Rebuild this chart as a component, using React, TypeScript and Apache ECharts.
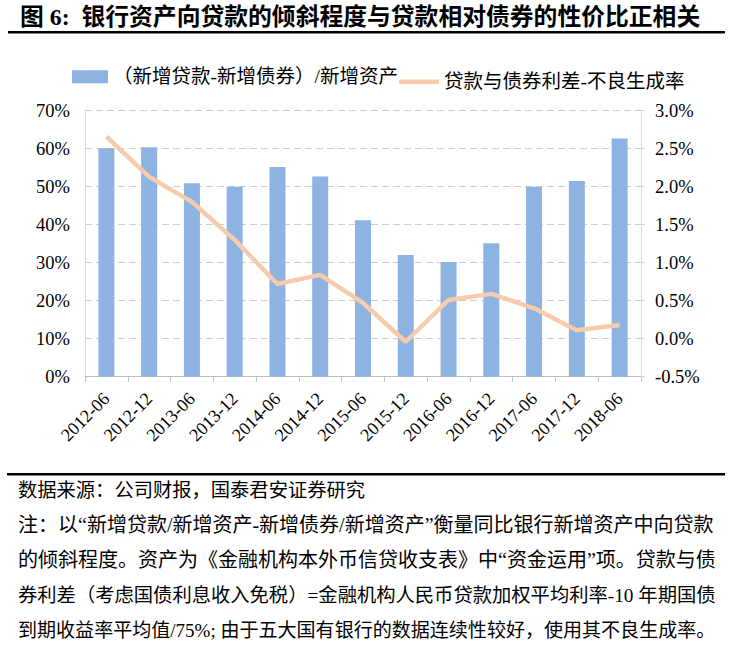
import React, { useEffect, useRef } from "react";
import * as echarts from "echarts";

const categories = [
  "2012-06", "2012-12", "2013-06", "2013-12", "2014-06", "2014-12", "2015-06",
  "2015-12", "2016-06", "2016-12", "2017-06", "2017-12", "2018-06",
];
const loanTiltRatio = [60.1, 60.4, 50.9, 50.0, 55.2, 52.7, 41.2, 32.0, 30.2, 35.1, 50.0, 51.5, 62.7];
const spreadMinusNpl = [2.66, 2.13, 1.80, 1.30, 0.72, 0.84, 0.47, -0.04, 0.51, 0.59, 0.40, 0.11, 0.18];

const seriesNames = ["（新增贷款-新增债券）/新增资产", "贷款与债券利差-不良生成率"];
const titleText = "图 6:  银行资产向贷款的倾斜程度与贷款相对债券的性价比正相关";
const sourceText = "数据来源：公司财报，国泰君安证券研究";
const noteLines = [
  "注：以“新增贷款/新增资产-新增债券/新增资产”衡量同比银行新增资产中向贷款",
  "的倾斜程度。资产为《金融机构本外币信贷收支表》中“资金运用”项。贷款与债",
  "券利差（考虑国债利息收入免税）=金融机构人民币贷款加权平均利率-10 年期国债",
  "到期收益率平均值/75%; 由于五大国有银行的数据连续性较好，使用其不良生成率。",
];

const FONT = "'Liberation Serif', 'Noto Sans CJK SC', serif";

function fitFontSize(text: string, targetWidth: number, maxSize: number): number {
  const ctx = document.createElement("canvas").getContext("2d");
  if (!ctx) return maxSize;
  ctx.font = `100px ${FONT}`;
  const w = ctx.measureText(text).width;
  if (!w) return maxSize;
  return Math.min(maxSize, (100 * targetWidth) / w);
}

export default function App() {
  const ref = useRef<HTMLDivElement>(null);
  useEffect(() => {
    document.body.style.margin = "0";
    const chart = echarts.init(ref.current!, null, { renderer: "svg" });
    const graphic: any[] = [
      {
        type: "text", left: 20, top: 5,
        style: { text: titleText, font: `bold 23.8px ${FONT}`, fill: "#000" },
      },
      { type: "rect", shape: { x: 8, y: 31, width: 717, height: 2.5 }, style: { fill: "#000" } },
      { type: "rect", shape: { x: 7, y: 473, width: 718, height: 2.5 }, style: { fill: "#000" } },
      {
        type: "text", left: 18, top: 481,
        style: { text: sourceText, font: `19.3px ${FONT}`, fill: "#000" },
      },
    ];
    noteLines.forEach((t, i) => {
      const size = fitFontSize(t, 698, 20);
      graphic.push({
        type: "text", left: 18, top: 525 + i * 35 - size / 2,
        style: { text: t, font: `${size.toFixed(2)}px ${FONT}`, fill: "#000" },
      });
    });
    const legendText = { fontSize: 19.5, color: "#000", fontFamily: FONT };
    chart.setOption({
      animation: false,
      textStyle: { fontFamily: FONT },
      graphic,
      legend: [
        {
          top: 62, left: 67, itemWidth: 36, itemHeight: 13, itemGap: 6,
          textStyle: legendText,
          data: [{ name: seriesNames[0], icon: "rect" }],
        },
        {
          top: 67, left: 394, itemWidth: 40, itemHeight: 4.5, itemGap: 6,
          textStyle: legendText,
          data: [{ name: seriesNames[1], icon: "rect" }],
        },
      ],
      grid: { left: 85, right: 91, top: 110.7, bottom: 269.3, containLabel: false },
      xAxis: {
        type: "category",
        data: categories,
        boundaryGap: true,
        axisLine: { lineStyle: { color: "#bfbfbf" } },
        axisTick: { show: true, alignWithLabel: false, length: 5, lineStyle: { color: "#bfbfbf" } },
        axisLabel: { rotate: 45, fontSize: 18, color: "#000", margin: 19, fontFamily: FONT, interval: 0 },
      },
      yAxis: [
        {
          type: "value", min: 0, max: 70, interval: 10,
          axisLine: { show: true, lineStyle: { color: "#d9d9d9" } },
          axisTick: { show: false },
          axisLabel: { formatter: "{value}%", fontSize: 18.5, color: "#000", margin: 15, fontFamily: FONT },
          splitLine: { show: true, lineStyle: { color: "#cfcfcf", type: [7, 4] } },
        },
        {
          type: "value", min: -0.5, max: 3.0, interval: 0.5, position: "right",
          axisLine: { show: true, lineStyle: { color: "#d9d9d9" } },
          axisTick: { show: true, length: 4, lineStyle: { color: "#d9d9d9" } },
          axisLabel: {
            formatter: (v: number) => v.toFixed(1) + "%",
            fontSize: 18.5, color: "#000", margin: 14, fontFamily: FONT,
          },
          splitLine: { show: false },
        },
      ],
      series: [
        {
          name: seriesNames[0], type: "bar", data: loanTiltRatio, yAxisIndex: 0,
          barWidth: 16, itemStyle: { color: "#8DB3E2" },
        },
        {
          name: seriesNames[1], type: "line", data: spreadMinusNpl, yAxisIndex: 1,
          showSymbol: false, symbol: "none", lineStyle: { color: "#F8CBAD", width: 4.5 },
          itemStyle: { color: "#F8CBAD" },
        },
      ],
    });
    return () => chart.dispose();
  }, []);
  return <div ref={ref} style={{ width: 732, height: 646 }} />;
}
